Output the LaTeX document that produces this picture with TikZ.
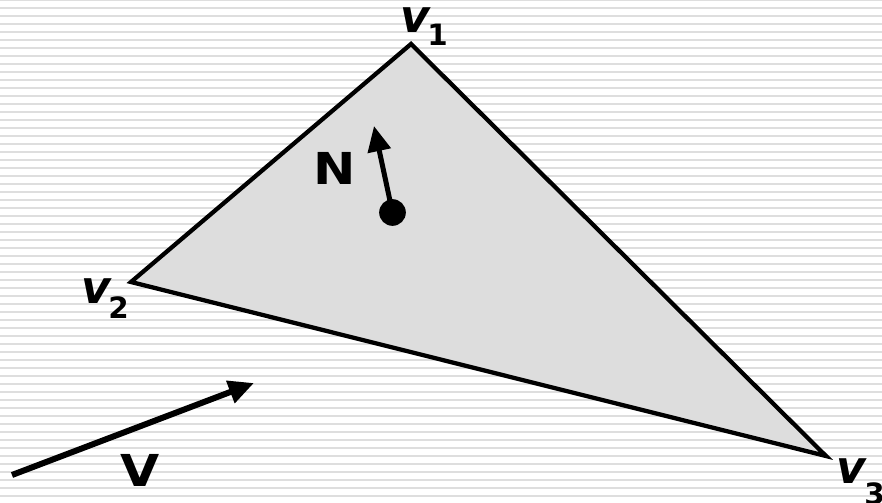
\documentclass[tikz,border=0pt]{standalone}
\usepackage{fontspec}
\setmainfont{DejaVu Sans}
\usetikzlibrary{arrows.meta}
\definecolor{stripegray}{RGB}{222,222,222}
\definecolor{facegray}{RGB}{221,221,221}
\tikzset{
  stripe/.style={draw=stripegray, line width=1.6pt},
  face/.style={fill=facegray, draw=black, line width=3.2pt, line join=miter},
  vecarrow/.style={line width=#1, -{Triangle[length=19pt,width=17pt]}},
  biglabel/.style={font=\fontsize{33}{40}\selectfont\bfseries, inner sep=0pt},
  vlabel/.style={font=\fontsize{34}{40}\selectfont\bfseries\itshape, inner sep=0pt, anchor=base west, text height=0.55em, text depth=0pt},
  sublabel/.style={font=\fontsize{22}{26}\selectfont\bfseries, inner sep=0pt, anchor=base west, text height=0.73em, text depth=0pt},
  dotnode/.style={circle, fill=black, minimum size=20pt, inner sep=0pt}
}
\newcommand{\widen}[1]{\scalebox{1.15}[1]{#1}}
\begin{document}
\begin{tikzpicture}[x=0.75pt,y=-0.75pt]
\useasboundingbox (0,0) rectangle (882,503);
\fill[white] (0,0) rectangle (882,503);
\foreach \k in {0,...,63} \draw[stripe] (0,8*\k) -- (882,8*\k);
\coordinate (v1) at (411,44);
\coordinate (v2) at (131,282);
\coordinate (v3) at (826,456);
\draw[face] (v1) -- (v2) -- (v3) -- cycle;
\node[dotnode] (dot) at (392.5,212.5) {};
\coordinate (ntip) at (374,126);
\draw[vecarrow=3.75pt] (dot.center) -- (ntip);
\node[biglabel] (N) at (335,168) {\widen{N}};
\coordinate (vtail) at (12,475);
\coordinate (vtip) at (254,383);
\draw[vecarrow=4.5pt] (vtail) -- (vtip);
\node[biglabel] (V) at (140,470) {\widen{V}};
\node[vlabel] (l1) at (400,33) {v};
\node[sublabel] (s1) at (427,46) {1};
\node[vlabel] (l2) at (81,303) {v};
\node[sublabel] (s2) at (108,318) {2};
\node[vlabel] (l3) at (836,483) {v};
\node[sublabel] (s3) at (864,504) {3};
\end{tikzpicture}
\end{document}
